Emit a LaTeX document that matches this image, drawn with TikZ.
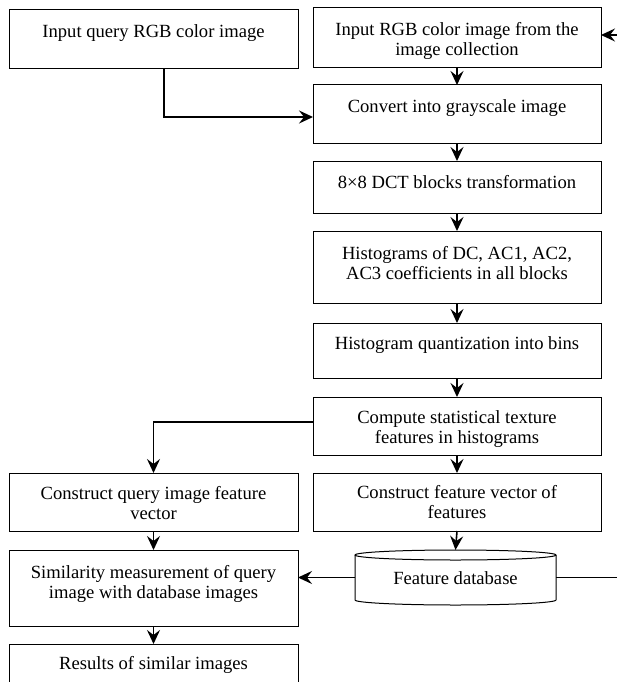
\documentclass[tikz,border=0pt]{standalone}
\usepackage{fontspec}
\setmainfont{Liberation Serif}
\usetikzlibrary{arrows.meta,calc}
\begin{document}
\begin{tikzpicture}[x=1pt,y=-1pt,
  box/.style={draw,line width=1pt,rectangle,inner sep=0pt,outer sep=0pt},
  lcol/.style={box,minimum width=289pt},
  rcol/.style={box,minimum width=288pt},
  txt/.style={anchor=north,inner sep=0pt,align=center,font=\fontsize{18.6}{20}\selectfont},
  arr/.style={line width=1.6pt,-{Stealth[length=14pt,width=13pt,inset=5pt]}},
  dbline/.style={line width=1pt}]
\fill[white] (0,0) rectangle (616,682);
\useasboundingbox (0,0) rectangle (616,682);
% boxes
\node[lcol,minimum height=59pt] (A) at (153.5,39.5) {};
\node[rcol,minimum height=60pt] (B) at (457,38) {};
\node[rcol,minimum height=58pt] (C) at (457,114) {};
\node[rcol,minimum height=52pt] (D) at (457,187) {};
\node[rcol,minimum height=72pt] (E) at (457,267) {};
\node[rcol,minimum height=55pt] (F) at (457,350.5) {};
\node[rcol,minimum height=58pt] (G) at (457,426) {};
\node[rcol,minimum height=58pt] (H) at (457,502) {};
\node[lcol,minimum height=58pt] (Q) at (153.5,502) {};
\node[lcol,minimum height=76pt] (S) at (153.5,588) {};
\node[lcol,minimum height=70pt] (R) at (153.5,679) {};
\node[inner sep=0pt,outer sep=0pt,minimum width=201pt,minimum height=55pt] (DB) at (455.5,577.5) {};
% cylinder
\draw[dbline] ($(DB.north)+(0,5)$) ellipse [x radius=100.5pt,y radius=5pt];
\draw[dbline] ($(DB.north west)+(0,5)$) -- ($(DB.south west)+(0,-5)$)
  arc[start angle=180,end angle=360,x radius=100.5pt,y radius=5pt]
  -- ($(DB.north east)+(0,5)$);
% texts
\node[txt] (At) at ($(A.north)+(0,13.5)$) {\rule{0pt}{14pt}Input query RGB color image};
\node[txt] (Bt) at ($(B.north)+(0,13.5)$) {\rule{0pt}{14pt}Input RGB color image from the\\image collection};
\node[txt] (Ct) at ($(C.north)+(0,13.5)$) {\rule{0pt}{14pt}Convert into grayscale image};
\node[txt] (Dt) at ($(D.north)+(0,13.5)$) {\rule{0pt}{14pt}8×8 DCT blocks transformation};
\node[txt] (Et) at ($(E.north)+(0,14.5)$) {\rule{0pt}{14pt}Histograms of DC, AC1, AC2,\\AC3 coefficients in all blocks};
\node[txt] (Ft) at ($(F.north)+(0,12)$) {\rule{0pt}{14pt}Histogram quantization into bins};
\node[txt] (Gt) at ($(G.north)+(0,12)$) {\rule{0pt}{14pt}Compute statistical texture\\features in histograms};
\node[txt] (Ht) at ($(H.north)+(0,11.5)$) {\rule{0pt}{14pt}Construct feature vector of\\features};
\node[txt] (Qt) at ($(Q.north)+(0,12)$) {\rule{0pt}{14pt}Construct query image feature\\vector};
\node[txt] (St) at ($(S.north)+(0,14.5)$) {\rule{0pt}{14pt}Similarity measurement of query\\image with database images};
\node[txt] (Rt) at ($(R.north)+(0,11.5)$) {\rule{0pt}{14pt}Results of similar images};
\node[anchor=base,inner sep=0pt,font=\fontsize{18.6}{20}\selectfont] (DBt) at ($(DB.center)+(0,6.5)$) {Feature database};
% connectors
\coordinate (ax) at (164,0);
\coordinate (fb) at (630,0);
\coordinate (bIn) at ($(B.east)+(0,-3)$);
\draw[arr] (A.south -| ax) |- ($(C.west)+(0,3)$);
\draw[arr] (B.south) -- (C.north);
\draw[arr] (C.south) -- (D.north);
\draw[arr] (D.south) -- (E.north);
\draw[arr] (E.south) -- (F.north);
\draw[arr] (F.south) -- (G.north);
\draw[arr] (G.south) -- (H.north);
\draw[arr] (H.south) -- (DB.north);
\draw[arr] ($(G.west)+(0,-4)$) -| (Q.north);
\draw[arr] (Q.south) -- (S.north);
\draw[arr] (S.south) -- (R.north);
\draw[arr] (DB.west) -- (DB.west -| S.east);
\draw[arr] (DB.east) -- (DB.east -| fb) -- (fb |- bIn) -- (bIn);
\end{tikzpicture}
\end{document}
